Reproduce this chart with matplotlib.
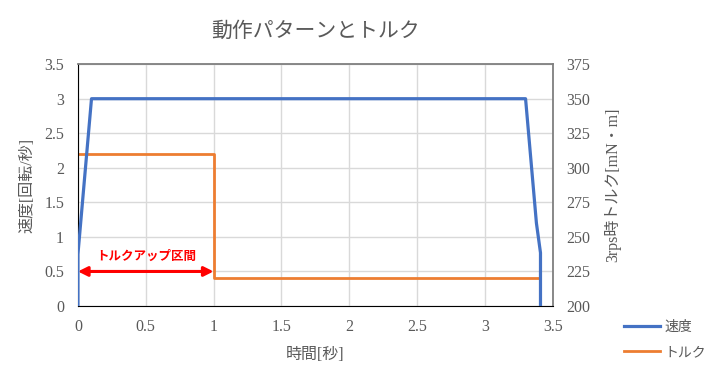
import matplotlib
matplotlib.use("Agg")
import matplotlib.pyplot as plt

plt.rcParams['font.family'] = ['Liberation Serif', 'Noto Sans CJK JP', 'DejaVu Sans']

# speed profile [rev/s] vs time [s]
t_speed = [0, 0, 0.1, 3.3, 3.38, 3.41, 3.41]
speed = [0, 0.75, 3.0, 3.0, 1.2, 0.77, 0]

# torque at 3 rps [mN·m]
t_torque = [0, 1, 1, 3.41]
torque = [310, 310, 220, 220]

x_ticks = [0, 0.5, 1, 1.5, 2, 2.5, 3, 3.5]
x_labels = ["0", "0.5", "1", "1.5", "2", "2.5", "3", "3.5"]
y_ticks = [0, 0.5, 1, 1.5, 2, 2.5, 3, 3.5]
y_labels = ["0", "0.5", "1", "1.5", "2", "2.5", "3", "3.5"]
y2_ticks = [200, 225, 250, 275, 300, 325, 350, 375]

up_range = (0, 1)
up_level = 0.5

text_col = "#595959"
blue = "#4472C4"
orange = "#ED7D31"

fig = plt.figure(figsize=(7.15, 3.73), dpi=100)
ax = fig.add_axes([0.109, 0.1796, 0.664, 0.6484])
ax2 = ax.twinx()

l1, = ax.plot(t_speed, speed, color=blue, lw=2.3, label="速度", zorder=4)
l2, = ax2.plot(t_torque, torque, color=orange, lw=2.0, label="トルク", zorder=3)
ax.set_zorder(ax2.get_zorder() + 1)
ax.patch.set_visible(False)

ax.set_xlim(0, 3.5)
ax.set_ylim(0, 3.5)
ax2.set_ylim(200, 375)
ax.set_xticks(x_ticks, x_labels)
ax.set_yticks(y_ticks, y_labels)
ax2.set_yticks(y2_ticks)

# grid on the lower (torque) axes so both lines sit above it
ax2.xaxis.set_visible(True)
ax2.tick_params(axis='x', labelbottom=False, labeltop=False, length=0)
ax2.grid(True, axis="both", color="#d9d9d9", lw=1.0)
ax2.set_axisbelow(True)

for a in (ax, ax2):
    a.tick_params(length=0, labelsize=11.5, labelcolor=text_col)
    for s in a.spines.values():
        s.set_visible(False)
ax.spines['left'].set_visible(True)
ax.spines['left'].set_color("black")
ax.spines['bottom'].set_visible(True)
ax.spines['bottom'].set_color("black")
ax.spines['top'].set_visible(True)
ax.spines['top'].set_color("#7f7f7f")
ax.spines['right'].set_visible(True)
ax.spines['right'].set_color("#7f7f7f")
ax.spines['top'].set_linewidth(1.3)
ax.spines['right'].set_linewidth(1.3)
ax.tick_params(axis='y', pad=10)
ax.tick_params(axis='x', pad=9)
ax2.tick_params(axis='y', pad=10)

ax.set_xlabel("時間[秒]", fontsize=11.5, color=text_col, labelpad=9)
ax.set_ylabel("速度[回転/秒]", fontsize=11.5, color=text_col, labelpad=6)
ax2.set_ylabel("3rps時トルク[mN・m]", fontsize=11.5, color=text_col, labelpad=10)
ax.set_title("動作パターンとトルク", fontsize=15, color=text_col, pad=20)

# torque-up section arrow
ax.annotate("", xy=(up_range[0], up_level), xytext=(up_range[1], up_level),
            arrowprops=dict(arrowstyle="<|-|>", color="red", lw=2.2,
                            mutation_scale=14, shrinkA=0, shrinkB=0),
            zorder=6)
ax.text((up_range[0] + up_range[1]) / 2, up_level + 0.12, "トルクアップ区間",
        color="red", fontsize=9, fontweight="bold", ha="center", va="bottom",
        family=['Noto Sans CJK JP'])

fig.legend(handles=[l1, l2], loc="upper left", bbox_to_anchor=(0.855, 0.175),
           frameon=False, fontsize=10, labelcolor=text_col, handlelength=2.6,
           handletextpad=0.3, labelspacing=0.9)

fig.savefig("out.png", dpi=100)
